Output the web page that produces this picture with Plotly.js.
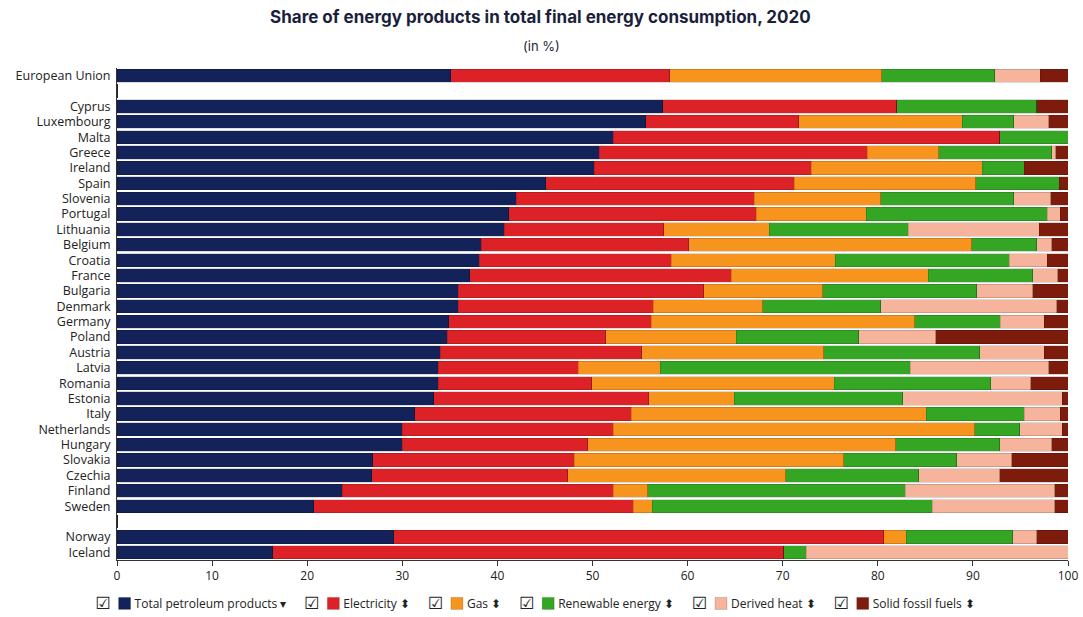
<!DOCTYPE html>
<html>
<head>
<meta charset="utf-8">
<script src="https://cdn.plot.ly/plotly-3.0.1.min.js"></script>
<style>
  html, body { margin: 0; padding: 0; background: #fff; }
  #chart { width: 1083px; height: 617px; }
</style>
</head>
<body>
<div id="chart"></div>
<script>
// Categories (top to bottom); " " and "  " are blank spacer rows
const countries = ["European Union", " ", "Cyprus", "Luxembourg", "Malta", "Greece", "Ireland", "Spain",
  "Slovenia", "Portugal", "Lithuania", "Belgium", "Croatia", "France", "Bulgaria", "Denmark",
  "Germany", "Poland", "Austria", "Latvia", "Romania", "Estonia", "Italy", "Netherlands",
  "Hungary", "Slovakia", "Czechia", "Finland", "Sweden", "  ", "Norway", "Iceland"];

// Shares in %, same order as countries
const petroleum = [35.1, 0, 57.4, 55.6, 52.2, 50.7, 50.2, 45.1, 42.0, 41.2, 40.7, 38.3, 38.1, 37.1, 35.9, 35.9,
  34.9, 34.7, 34.0, 33.8, 33.8, 33.3, 31.3, 30.0, 30.0, 26.9, 26.8, 23.7, 20.7, 0, 29.1, 16.4];
const electricity = [23.0, 0, 24.6, 16.1, 40.6, 28.2, 22.8, 26.1, 25.0, 26.0, 16.8, 21.8, 20.2, 27.5, 25.8, 20.5,
  21.3, 16.7, 21.2, 14.7, 16.1, 22.6, 22.8, 22.2, 19.5, 21.2, 20.6, 28.5, 33.6, 0, 51.5, 53.7];
const gas = [22.3, 0, 0, 17.2, 0, 7.5, 18.0, 19.1, 13.3, 11.6, 11.1, 29.8, 17.2, 20.7, 12.5, 11.5,
  27.7, 13.7, 19.1, 8.6, 25.5, 9.0, 31.0, 38.0, 32.4, 28.3, 22.9, 3.6, 2.0, 0, 2.4, 0];
const renewable = [11.9, 0, 14.7, 5.4, 7.2, 11.9, 4.4, 8.8, 14.0, 19.0, 14.6, 6.8, 18.3, 11.0, 16.2, 12.4,
  9.0, 12.9, 16.4, 26.3, 16.5, 17.7, 10.3, 4.7, 10.9, 11.9, 14.0, 27.1, 29.4, 0, 11.2, 2.4];
const derivedHeat = [4.8, 0, 0, 3.7, 0, 0.4, 0, 0, 3.9, 1.4, 13.8, 1.6, 4.0, 2.6, 5.9, 18.5,
  4.6, 8.1, 6.8, 14.6, 4.2, 16.8, 3.8, 4.5, 5.5, 5.8, 8.5, 15.7, 12.9, 0, 2.5, 27.5];
const solidFossil = [2.9, 0, 3.3, 2.0, 0, 1.3, 4.6, 0.9, 1.8, 0.8, 3.0, 1.7, 2.2, 1.1, 3.7, 1.2,
  2.5, 13.9, 2.5, 2.0, 3.9, 0.6, 0.8, 0.6, 1.7, 5.9, 7.2, 1.4, 1.4, 0, 3.3, 0];

const seriesNames = ["Total petroleum products", "Electricity", "Gas", "Renewable energy", "Derived heat", "Solid fossil fuels"];
const seriesValues = [petroleum, electricity, gas, renewable, derivedHeat, solidFossil];
const seriesColors = ["#13235a", "#dc2226", "#f7941d", "#34a624", "#f6b49c", "#7d1c0c"];
const sortMarks = ["\u25BE", "\u2B0D", "\u2B0D", "\u2B0D", "\u2B0D", "\u2B0D"];

const xTicks = [0, 10, 20, 30, 40, 50, 60, 70, 80, 90, 100];

const traces = seriesNames.map((name, i) => ({
  type: "bar",
  orientation: "h",
  name: name + " " + sortMarks[i],
  y: countries,
  x: seriesValues[i],
  marker: { color: seriesColors[i], line: { color: "rgba(0,0,0,0.25)", width: 0.6 } },
  hoverinfo: "x+y+name"
}));

const layout = {
  width: 1083,
  height: 617,
  barmode: "stack",
  bargap: 0.14,
  paper_bgcolor: "#ffffff",
  plot_bgcolor: "#ffffff",
  font: { family: "Open Sans, Arial, sans-serif", size: 12, color: "#222222" },
  margin: { l: 117, r: 15, t: 68, b: 57, autoexpand: false },
  title: {
    text: "<b>Share of energy products in total final energy consumption, 2020</b>",
    font: { family: "Inter, Open Sans, Arial, sans-serif", size: 17, color: "#1b1f3b" },
    x: 0.499, xanchor: "center", y: 0.972, yanchor: "middle"
  },
  annotations: [{
    text: "(in %)", xref: "paper", yref: "paper", x: 0.5 - (117 - 15) / 2 / 951, y: 1, yshift: 22,
    xanchor: "center", yanchor: "middle", showarrow: false,
    font: { family: "Inter, Open Sans, Arial, sans-serif", size: 13, color: "#1b1f3b" }
  }],
  xaxis: {
    range: [0, 100],
    tickvals: xTicks,
    ticktext: xTicks.map(String),
    ticks: "outside", ticklen: 5, tickcolor: "#333",
    showline: true, linecolor: "#333", linewidth: 1,
    showgrid: false, zeroline: false,
    tickfont: { size: 12, color: "#222" },
    fixedrange: true
  },
  yaxis: {
    type: "category",
    categoryorder: "array",
    categoryarray: countries,
    tickmode: "array",
    tickvals: countries,
    ticktext: countries,
    autorange: "reversed",
    showline: true, linecolor: "#333", linewidth: 1,
    ticks: "", showgrid: false, zeroline: false,
    ticklabelstandoff: 3,
    tickfont: { size: 12.5, color: "#222" },
    fixedrange: true
  },
  legend: {
    orientation: "h",
    x: 0.45, xanchor: "center",
    yref: "container",
    y: 0.022, yanchor: "middle",
    font: { size: 12, color: "#222" },
    traceorder: "normal",
    itemclick: false, itemdoubleclick: false
  },
  showlegend: true
};

function parseTranslate(s) {
  const m = /translate\(\s*([-\d.e]+)[ ,]+([-\d.e]+)\s*\)/.exec(s || "");
  return m ? [parseFloat(m[1]), parseFloat(m[2])] : [0, 0];
}

Plotly.newPlot("chart", traces, layout, { displayModeBar: false }).then(() => {
  const ns = "http://www.w3.org/2000/svg";
  const legend = document.querySelector("#chart .legend");
  if (!legend) return;
  const scroll = legend.querySelector(".scrollbox");
  if (scroll) scroll.removeAttribute("clip-path");
  const bg = legend.querySelector("rect.bg");
  if (bg) bg.setAttribute("style", "fill:none;stroke:none");
  const items = legend.querySelectorAll(".traces");
  items.forEach((g, i) => {
    const [tx, ty] = parseTranslate(g.getAttribute("transform"));
    g.setAttribute("transform", "translate(" + (tx + 22 + i * 12) + "," + ty + ")");
    // tighten the gap between swatch and text
    const txt = g.querySelector("text.legendtext");
    if (txt) {
      const x = parseFloat(txt.getAttribute("x") || "40");
      txt.setAttribute("x", String(x - 10));
      txt.querySelectorAll("tspan[x]").forEach(ts => ts.setAttribute("x", String(parseFloat(ts.getAttribute("x")) - 10)));
    }
    // checkbox glyph before the swatch
    const t = document.createElementNS(ns, "text");
    t.setAttribute("x", "-9");
    t.setAttribute("y", "6");
    t.setAttribute("font-family", "DejaVu Sans, sans-serif");
    t.setAttribute("font-size", "17");
    t.setAttribute("fill", "#222");
    t.textContent = "\u2611";
    g.insertBefore(t, g.firstChild);
  });
  // re-centre the legend under the plot
  const [lx, ly] = parseTranslate(legend.getAttribute("transform"));
  const bb = legend.getBBox();
  const target = 535;
  legend.setAttribute("transform", "translate(" + (target - (bb.x + bb.width / 2)) + "," + ly + ")");
});
</script>
</body>
</html>
